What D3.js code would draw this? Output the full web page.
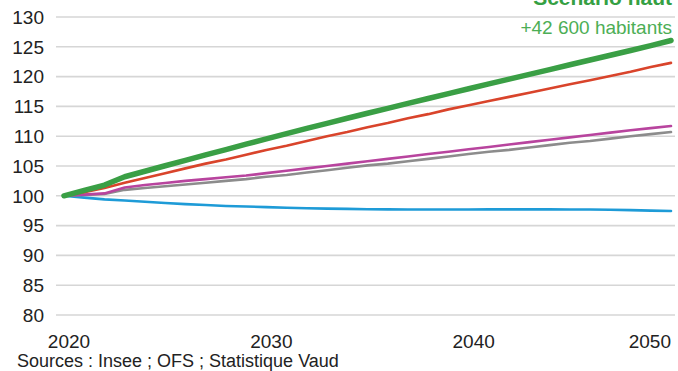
<!DOCTYPE html>
<html><head><meta charset="utf-8">
<script src="https://cdn.jsdelivr.net/npm/d3@7"></script>
<style>
html,body{margin:0;padding:0;background:#fff;}
svg{display:block;font-family:"Liberation Sans",Arial,sans-serif;}
</style></head>
<body><svg id="c" width="678" height="371"></svg>
<script>
const years = d3.range(2020, 2051);
const yTicks = [80, 85, 90, 95, 100, 105, 110, 115, 120, 125, 130];
const xTicks = [2020, 2030, 2040, 2050];
const serieBleue = [100,99.7,99.4,99.2,99.0,98.8,98.6,98.45,98.3,98.2,98.1,98.0,97.92,97.85,97.8,97.75,97.72,97.7,97.7,97.7,97.7,97.72,97.72,97.72,97.72,97.7,97.7,97.65,97.6,97.52,97.45];
const serieGrise = [100,100.15,100.3,101.0,101.3,101.6,101.9,102.2,102.5,102.8,103.2,103.5,103.9,104.3,104.7,105.1,105.4,105.8,106.2,106.6,107.0,107.4,107.7,108.1,108.5,108.9,109.2,109.6,110.0,110.35,110.7];
const serieMagenta = [100,100.2,100.4,101.4,101.8,102.15,102.5,102.8,103.1,103.4,103.8,104.2,104.6,105.0,105.4,105.8,106.2,106.6,107.0,107.4,107.8,108.2,108.6,109.0,109.4,109.8,110.2,110.6,111.0,111.35,111.7];
const serieRouge = [100,100.6,101.3,102.2,103.0,103.8,104.6,105.4,106.1,106.9,107.7,108.4,109.2,110.0,110.7,111.5,112.2,113.0,113.7,114.5,115.2,115.9,116.6,117.3,118.0,118.7,119.4,120.1,120.8,121.6,122.3];
const serieVerte = [100,100.9,101.8,103.2,104.12,105.04,105.95,106.86,107.76,108.66,109.55,110.43,111.3,112.16,113.01,113.85,114.68,115.51,116.33,117.15,117.96,118.77,119.58,120.38,121.18,121.98,122.78,123.58,124.38,125.2,126.05];
const titreScenario = "Scénario haut";
const sousTitre = "+42 600 habitants";
const sources = "Sources : Insee ; OFS ; Statistique Vaud";

const svg = d3.select("#c");
const x = d3.scaleLinear().domain([2020, 2050]).range([64, 671]);
const y = d3.scaleLinear().domain([80, 130]).range([315, 17]);

// gridlines
svg.append("g").selectAll("line").data(yTicks).join("line")
  .attr("x1", 56).attr("x2", 675)
  .attr("y1", d => y(d)).attr("y2", d => y(d))
  .attr("stroke", "#d6d6d6").attr("stroke-width", 1.6);

// y labels
svg.append("g").selectAll("text").data(yTicks).join("text")
  .attr("x", 44).attr("y", d => y(d)).attr("dy", "0.36em")
  .attr("text-anchor", "end").attr("font-size", 19).attr("fill", "#222")
  .text(d => d);

// x labels
svg.append("g").selectAll("text").data(xTicks).join("text")
  .attr("x", (d, i) => i === xTicks.length - 1 ? 671 : x(d) + 5)
  .attr("y", 348)
  .attr("text-anchor", (d, i) => i === xTicks.length - 1 ? "end" : "middle")
  .attr("font-size", 19).attr("fill", "#222")
  .text(d => d);

const line = d3.line().x((d, i) => x(years[i])).y(d => y(d));
const series = [
  {v: serieBleue, c: "#1e9bd7", w: 2.6},
  {v: serieGrise, c: "#8c8c8c", w: 2.6},
  {v: serieMagenta, c: "#b8449e", w: 2.6},
  {v: serieRouge, c: "#d9442b", w: 2.6},
  {v: serieVerte, c: "#3a9f45", w: 5.5}
];
svg.append("g").selectAll("path").data(series).join("path")
  .attr("d", d => line(d.v)).attr("fill", "none")
  .attr("stroke", d => d.c).attr("stroke-width", d => d.w)
  .attr("stroke-linejoin", "round").attr("stroke-linecap", "round");

svg.append("text").attr("x", 672).attr("y", 5).attr("text-anchor", "end")
  .attr("font-size", 21).attr("font-weight", "bold").attr("fill", "#35a043")
  .text(titreScenario);
svg.append("text").attr("x", 672).attr("y", 34).attr("text-anchor", "end")
  .attr("font-size", 19).attr("fill", "#4cae55")
  .text(sousTitre);
svg.append("text").attr("x", 17).attr("y", 367)
  .attr("font-size", 18).attr("fill", "#222")
  .text(sources);
</script></body></html>
